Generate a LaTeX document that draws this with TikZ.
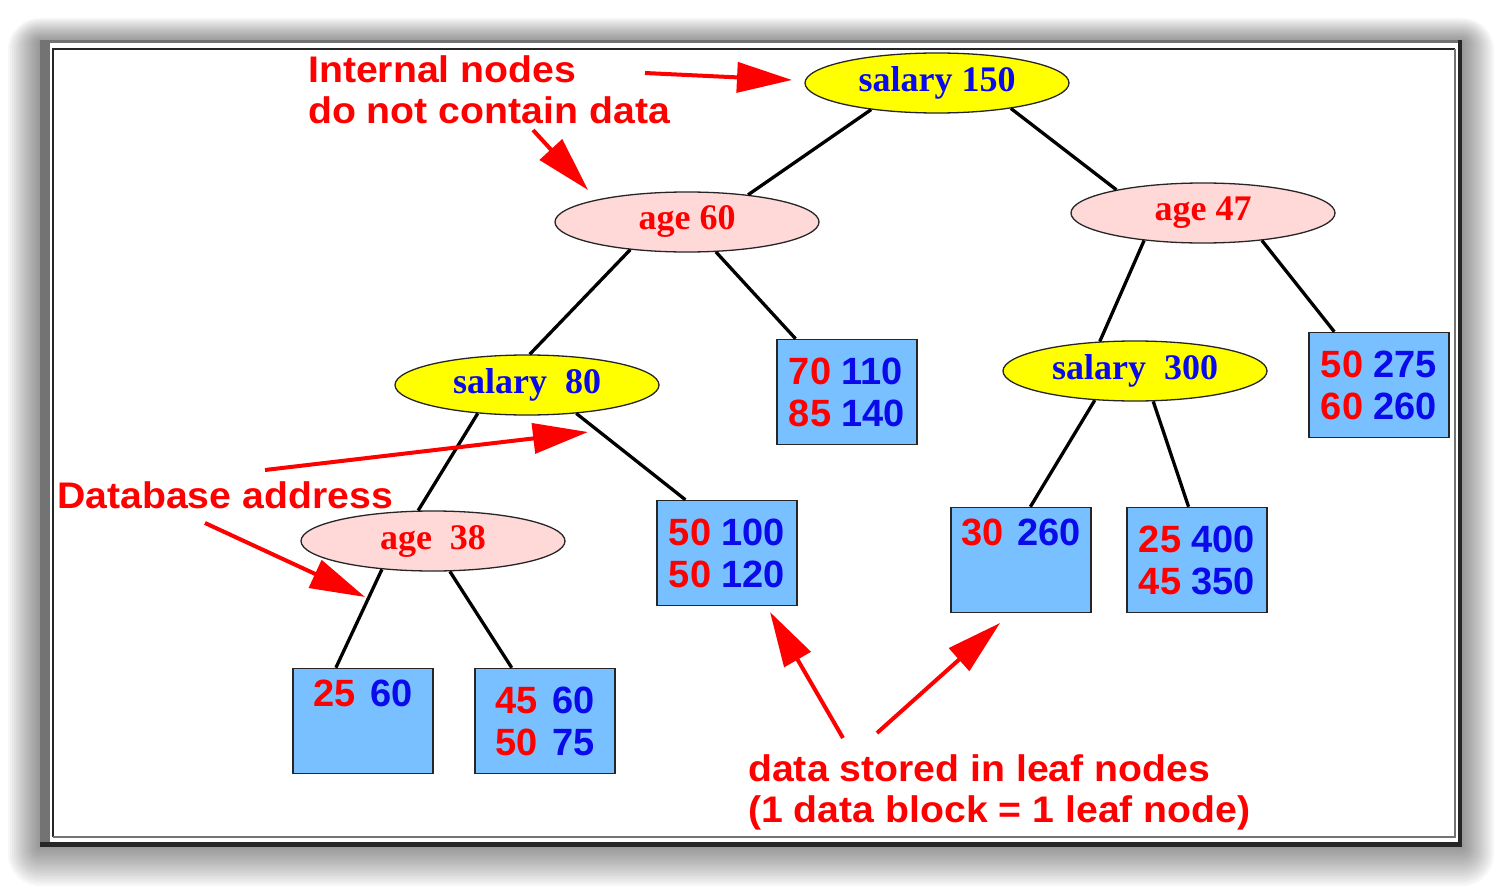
\documentclass[tikz,border=0pt]{standalone}
\usepackage{fontspec}
\setmainfont{Liberation Serif}
\newfontfamily\helv{Liberation Sans}
\newfontfamily\helvwide[FakeStretch=1.06]{Liberation Sans}
\usetikzlibrary{shapes.geometric,arrows.meta}
\definecolor{keyyellow}{RGB}{255,255,0}
\definecolor{keypink}{RGB}{255,216,216}
\definecolor{leafblue}{RGB}{120,192,255}
\definecolor{notered}{RGB}{255,0,0}
\definecolor{numblue}{RGB}{10,10,235}
\newcommand{\rd}[1]{\textcolor{notered}{#1}}
\newcommand{\bl}[1]{\textcolor{numblue}{#1}}
\tikzset{
    key/.style={ellipse, draw=black!85, line width=1.3pt, minimum width=264pt, minimum height=60pt,
        inner sep=0pt, font=\fontsize{36}{38}\selectfont\bfseries},
    salkey/.style={key, fill=keyyellow, text=numblue},
    agekey/.style={key, fill=keypink, text=notered},
    leaf/.style={rectangle, draw=black!85, line width=1.5pt, fill=leafblue, minimum width=140pt,
        minimum height=105pt, inner sep=0pt, align=left, font=\helv\bfseries\fontsize{38}{42}\selectfont},
    edge/.style={line width=3.3pt, black},
    note/.style={anchor=north west, inner sep=0pt, align=left, text=notered,
        font=\helvwide\bfseries\fontsize{37}{41}\selectfont},
    pointer/.style={line width=4pt, notered, -{Triangle[length=55pt,width=30pt]}}
}
\begin{document}
\begin{tikzpicture}[x=1pt, y=-1pt]
    \useasboundingbox (0,0) rectangle (1502,888);
    % shadow and frame
    \foreach \i in {1,...,16} {
        \fill[black, opacity=0.03, rounded corners=\i*2pt] (40-2*\i, 42-1.5*\i) rectangle (1462+2*\i, 846+2.5*\i);
    }
    \fill[black!85] (40,40) rectangle (1462,847);
    \fill[black!55] (40,40) rectangle (1458,842);
    \fill[white] (50,43) rectangle (1458,842);
    \draw[black!85, line width=2pt] (53,837) -- (53,49) -- (1455,49);
    \draw[black!55, line width=2pt] (1455,49) -- (1455,837) -- (53,837);

    % internal nodes
    \node[salkey] (root) at (937,83) {salary 150};
    \node[agekey] (age60) at (687,222) {age 60};
    \node[agekey] (age47) at (1203,213) {age 47};
    \node[salkey] (sal80) at (527,385) {salary\ \ 80};
    \node[salkey] (sal300) at (1135,371) {salary\ \ 300};
    \node[agekey] (age38) at (433,541) {age\ \ 38};

    % leaf nodes
    \node[leaf] (b7110) at (847,392) {\rd{70} \bl{110}\\\rd{85} \bl{140}};
    \node[leaf] (b50275) at (1379,385) {\rd{50} \bl{275}\\\rd{60} \bl{260}};
    \node[leaf] (b50100) at (727,553) {\rd{50} \bl{100}\\\rd{50} \bl{120}};
    \node[leaf] (b30260) at (1021,560) {\rd{30}\hspace{14pt}\bl{260}\\\strut};
    \node[leaf] (b25400) at (1197,560) {\rd{25} \bl{400}\\\rd{45} \bl{350}};
    \node[leaf] (b2560) at (363,721) {\rd{25}\hspace{14pt}\bl{60}\\\strut};
    \node[leaf] (b4560) at (545,721) {\rd{45}\hspace{14pt}\bl{60}\\\rd{50}\hspace{14pt}\bl{75}};

    \foreach \a/\b in {root.202/age60.24, root.341/age47.165, age60.206/sal80.85, age60.314/b7110.134,
        age47.205/sal300.140, age47.335/b50275.130, sal80.210/age38.116, sal80.330/b50100.128,
        sal300.216/b30260.80, sal300.301/b25400.99, age38.209/b2560.117, age38.299/b4560.122} {
        \draw[edge] (\a) -- (\b);
    }

    % notes
    \node[note] (intnote) at (308,55) {Internal nodes\\do not contain data};
    \node[note] (dbnote) at (57,481) {Database address};
    \node[note] (leafnote) at (748,754) {data stored in leaf nodes\\(1 data block = 1 leaf node)};

    \coordinate (intA) at (645,73);
    \coordinate (intAtip) at (792,80);
    \coordinate (intB) at (533,130);
    \coordinate (intBtip) at (588,190);
    \coordinate (dbA) at (265,470);
    \coordinate (dbAtip) at (588,432);
    \coordinate (dbB) at (205,523);
    \coordinate (dbBtip) at (365,597);
    \coordinate (leafA) at (843,738);
    \coordinate (leafAtip) at (770,612);
    \coordinate (leafB) at (877,733);
    \coordinate (leafBtip) at (1000,623);
    \foreach \s/\t in {intA/intAtip, intB/intBtip, dbA/dbAtip, dbB/dbBtip, leafA/leafAtip, leafB/leafBtip} {
        \draw[pointer] (\s) -- (\t);
    }
\end{tikzpicture}
\end{document}
